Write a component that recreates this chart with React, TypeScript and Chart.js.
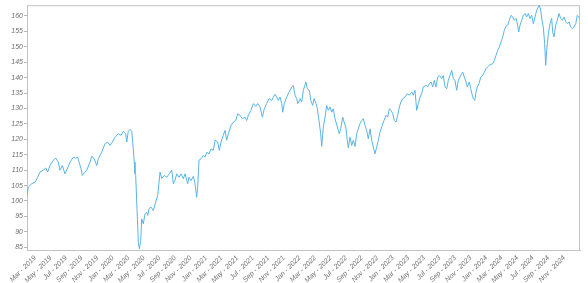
import React, { useEffect, useRef } from "react";
import { Chart, registerables } from "chart.js";

Chart.register(...registerables);

// month index: 0 = Jan 2019
const months: number[] = [
  0.97, 1.14, 1.58, 2.0, 2.35, 2.64, 3.07, 3.38, 3.63, 3.93, 4.35, 4.66, 4.99, 5.21, 5.51, 5.86, 6.2, 6.5, 6.92, 7.23,
  7.49, 7.66, 7.91, 8.08, 8.34, 8.65, 9.07, 9.29, 9.62, 9.93, 10.14, 10.57, 11.0, 11.34, 11.64, 11.94, 12.28, 12.71,
  13.05, 13.35, 13.66, 13.79, 13.99, 14.21, 14.43, 14.56, 14.76, 14.85, 14.94, 15.11, 15.28, 15.41, 15.59, 15.71,
  15.92, 16.14, 16.36, 16.49, 16.65, 16.91, 17.21, 17.51, 17.77, 17.94, 18.07, 18.29, 18.62, 18.93, 19.26,
  19.57, 19.78, 20.0, 20.21, 20.51, 20.77, 21.06, 21.28, 21.63, 21.79, 22.05, 22.35, 22.57, 22.78, 22.91, 23.08,
  23.34, 23.63, 23.85, 24.07, 24.37, 24.62, 24.92, 25.14, 25.48, 25.69, 25.91, 26.2, 26.42, 26.64, 26.85, 27.19,
  27.49, 27.8, 28.05, 28.35, 28.65, 28.99, 29.21, 29.42, 29.76, 30.06, 30.37, 30.62, 30.92, 31.22, 31.47, 31.78,
  32.08, 32.42, 32.63, 32.85, 33.07, 33.27, 33.49, 33.71, 33.84, 34.04, 34.35, 34.65, 35.0, 35.2, 35.42, 35.64,
  35.77, 35.97,
  36.06, 36.28, 36.49, 36.83, 37.0, 37.26, 37.44, 37.69, 37.86, 38.12, 38.29, 38.5, 38.72, 38.85, 39.06, 39.28,
  39.49, 39.7, 39.92, 40.14, 40.34, 40.56, 40.86, 41.11, 41.29, 41.55, 41.72, 41.94, 42.14, 42.27, 42.49, 42.71,
  42.91, 43.13, 43.35, 43.56, 43.77, 43.99, 44.2, 44.42, 44.63, 44.84, 45.06, 45.28, 45.48, 45.7, 45.92, 46.13,
  46.34, 46.56, 46.86, 47.12, 47.33, 47.54, 47.76, 47.98, 48.18, 48.4, 48.62, 48.83, 49.04, 49.26, 49.56, 49.85,
  50.11, 50.42, 50.62, 50.84, 51.06, 51.27, 51.49, 51.7, 51.91, 52.26, 52.48, 52.68, 52.9, 53.12, 53.32, 53.54,
  53.76, 53.97,
  54.27, 54.48, 54.7, 54.92, 55.12, 55.34, 55.56, 55.77, 55.98, 56.2, 56.41, 56.72, 56.97, 57.18, 57.4, 57.57,
  57.82, 58.0, 58.21, 58.34, 58.52, 58.68, 58.85, 59.07, 59.29, 59.54, 59.75, 59.97, 60.19, 60.39, 60.61, 60.83,
  61.04, 61.25, 61.47, 61.68, 61.9, 62.12, 62.32, 62.54, 62.76, 62.96, 63.18, 63.4, 63.61, 63.83, 64.04, 64.17,
  64.34, 64.56, 64.76, 64.98, 65.2, 65.41, 65.62, 65.84, 66.05, 66.27, 66.49, 66.69, 66.82, 67.0, 67.17, 67.33,
  67.51, 67.64, 67.77, 67.98, 68.2, 68.41, 68.54, 68.71, 68.93, 69.13, 69.35, 69.57, 69.78, 70.0, 70.21, 70.42,
  70.64, 70.86, 71.06, 71.28, 71.5, 71.7, 71.88, 72.01,
];

const values: number[] = [
  101.8, 104.5, 105.6, 106.1, 107.7, 109.4, 110.0, 110.7, 109.4, 111.5, 113.2, 113.9, 112.6, 110.0, 111.5, 108.8,
  110.7, 112.6, 114.2, 113.9, 114.2, 112.6, 110.5, 108.3, 109.2, 110.0, 112.6, 114.5, 113.7, 111.5, 113.7, 115.8,
  118.6, 119.1, 118.0, 119.1, 120.7, 121.8, 121.3, 122.6, 121.8, 119.1, 122.6, 123.2, 122.6, 119.1, 112.6, 108.8,
  108.3, 97.5, 86.6, 84.5, 87.2, 94.2, 92.6, 95.8, 96.4, 95.3, 97.5, 98.0, 96.9, 99.6, 101.8, 106.1, 109.4, 107.3,
  108.3, 107.7, 108.8,
  110.0, 105.6, 106.7, 108.8, 107.7, 108.8, 107.2, 108.8, 105.6, 107.7, 106.6, 108.0, 105.6, 101.2, 104.5, 113.2,
  113.7, 114.8, 114.2, 115.8, 115.3, 116.9, 116.4, 119.7, 119.1, 116.4, 119.1, 121.3, 122.9, 119.7, 121.8, 124.5,
  125.6, 126.1, 128.3, 127.8, 126.7, 127.2, 126.1, 127.8, 129.4, 131.6, 130.7, 131.6, 130.5, 127.2, 129.9, 131.6,
  133.2, 132.6, 133.7, 134.6, 133.7, 132.6, 133.7, 131.6, 128.8, 131.6, 133.7, 135.3, 137.0, 137.5, 134.3, 133.2,
  131.6, 132.6,
  133.2, 132.1, 135.9, 138.6, 136.4, 135.9, 132.6, 131.0, 133.2, 131.6, 129.9, 126.1, 121.8, 117.7, 124.0, 127.2,
  131.0, 129.4, 130.5, 128.8, 129.9, 126.7, 124.0, 121.8, 123.4, 127.2, 125.6, 124.0, 119.7, 117.3, 120.7, 118.0,
  119.7, 117.7, 121.8, 123.4, 125.1, 126.1, 126.7, 124.5, 122.9, 120.2, 123.4, 119.7, 117.5, 115.3, 117.5, 119.7,
  122.3, 124.0, 126.1, 127.8, 127.2, 129.9, 129.4, 128.3, 126.1, 125.6, 127.8, 130.5, 132.1, 133.2, 133.7, 134.8,
  134.3, 135.3, 134.3, 135.9, 129.4, 131.6, 133.7, 134.8, 137.0, 137.5, 137.0, 138.1, 138.6, 137.0, 139.1, 137.0,
  140.2, 140.7,
  139.7, 140.7, 137.0, 136.4, 139.1, 140.7, 142.4, 139.7, 139.1, 135.9, 139.1, 140.7, 141.8, 140.2, 138.6, 137.0,
  138.6, 136.4, 134.3, 133.2, 132.6, 135.3, 137.0, 138.1, 140.2, 140.7, 141.8, 142.9, 143.5, 144.0, 144.3, 144.5,
  145.6, 147.2, 148.9, 149.9, 151.6, 153.2, 155.4, 156.7, 157.0, 158.6, 160.2, 159.7, 158.6, 159.2, 157.0, 154.8,
  157.0, 158.6, 160.2, 160.8, 159.7, 160.8, 159.2, 160.2, 157.5, 159.7, 161.9, 162.9, 163.5, 161.9, 158.6, 156.4,
  151.0, 144.0, 148.9, 154.3, 157.5, 159.2, 154.8, 153.2, 157.0, 158.6, 160.8, 159.2, 158.6, 159.7, 158.1, 157.5,
  158.1, 156.4, 155.9, 156.4, 157.5, 160.2, 159.7, 159.2,
];

const xTickValues: number[] = [
  2, 4, 6, 8, 10, 12, 14, 16, 18, 20, 22, 24, 26, 28, 30, 32, 34, 36, 38, 40, 42, 44, 46, 48, 50, 52, 54, 56, 58, 60,
  62, 64, 66, 68, 70,
];
const xTickLabels: string[] = [
  "Mar - 2019", "May - 2019", "Jul - 2019", "Sep - 2019", "Nov - 2019",
  "Jan - 2020", "Mar - 2020", "May - 2020", "Jul - 2020", "Sep - 2020", "Nov - 2020",
  "Jan - 2021", "Mar - 2021", "May - 2021", "Jul - 2021", "Sep - 2021", "Nov - 2021",
  "Jan - 2022", "Mar - 2022", "May - 2022", "Jul - 2022", "Sep - 2022", "Nov - 2022",
  "Jan - 2023", "Mar - 2023", "May - 2023", "Jul - 2023", "Sep - 2023", "Nov - 2023",
  "Jan - 2024", "Mar - 2024", "May - 2024", "Jul - 2024", "Sep - 2024", "Nov - 2024",
];
const yTickValues: number[] = [85, 90, 95, 100, 105, 110, 115, 120, 125, 130, 135, 140, 145, 150, 155, 160];

const X_MIN = 0.97;
const X_MAX = 72.05;
const Y_MIN = 84.1;
const Y_MAX = 163.5;

const frame = {
  id: "frame",
  beforeDatasetsDraw(chart: any) {
    const { ctx, chartArea } = chart;
    ctx.save();
    ctx.strokeStyle = "#c4c4c4";
    ctx.lineWidth = 1;
    ctx.strokeRect(chartArea.left + 0.5, chartArea.top + 0.5, chartArea.right - chartArea.left - 1, chartArea.bottom - chartArea.top);
    ctx.restore();
  },
};

export default function App() {
  const ref = useRef<HTMLCanvasElement | null>(null);
  useEffect(() => {
    if (!ref.current) return;
    const data = months.map((m, i) => ({ x: m, y: values[i] }));
    const font = { family: "Liberation Sans", size: 7, style: "italic" as const };
    const chart = new Chart(ref.current, {
      type: "line",
      data: {
        datasets: [
          {
            data,
            borderColor: "#5ab4e6",
            borderWidth: 1,
            pointRadius: 0,
            tension: 0,
            fill: false,
          },
        ],
      },
      options: {
        responsive: false,
        animation: false,
        layout: { padding: { top: 5, right: 8, left: 0, bottom: 0 } },
        plugins: { legend: { display: false }, tooltip: { enabled: false } },
        scales: {
          x: {
            type: "linear",
            min: X_MIN,
            max: X_MAX,
            afterBuildTicks: (s: any) => {
              s.ticks = xTickValues.map((v) => ({ value: v }));
            },
            afterFit: (s: any) => {
              s.height = 33;
            },
            grid: { display: false },
            border: { display: true, color: "#b8b8b8", width: 1 },
            ticks: {
              autoSkip: false,
              minRotation: 45,
              maxRotation: 45,
              padding: -4,
              color: "#707070",
              font,
              callback: (v: any) => {
                const i = xTickValues.indexOf(Number(v));
                return i >= 0 ? xTickLabels[i] : "";
              },
            },
          },
          y: {
            type: "linear",
            min: Y_MIN,
            max: Y_MAX,
            afterBuildTicks: (s: any) => {
              s.ticks = yTickValues.map((v) => ({ value: v }));
            },
            afterFit: (s: any) => {
              s.width = 27;
            },
            grid: { display: true, drawOnChartArea: false, drawTicks: true, tickLength: 3, color: "#b8b8b8" },
            border: { display: true, color: "#b8b8b8", width: 1 },
            ticks: { padding: 1, color: "#707070", font },
          },
        },
      },
      plugins: [frame],
    });
    return () => chart.destroy();
  }, []);
  return (
    <div style={{ position: "absolute", left: 0, top: 0, width: 588, height: 283, background: "#fff" }}>
      <canvas ref={ref} width={588} height={283} style={{ display: "block" }} />
    </div>
  );
}
